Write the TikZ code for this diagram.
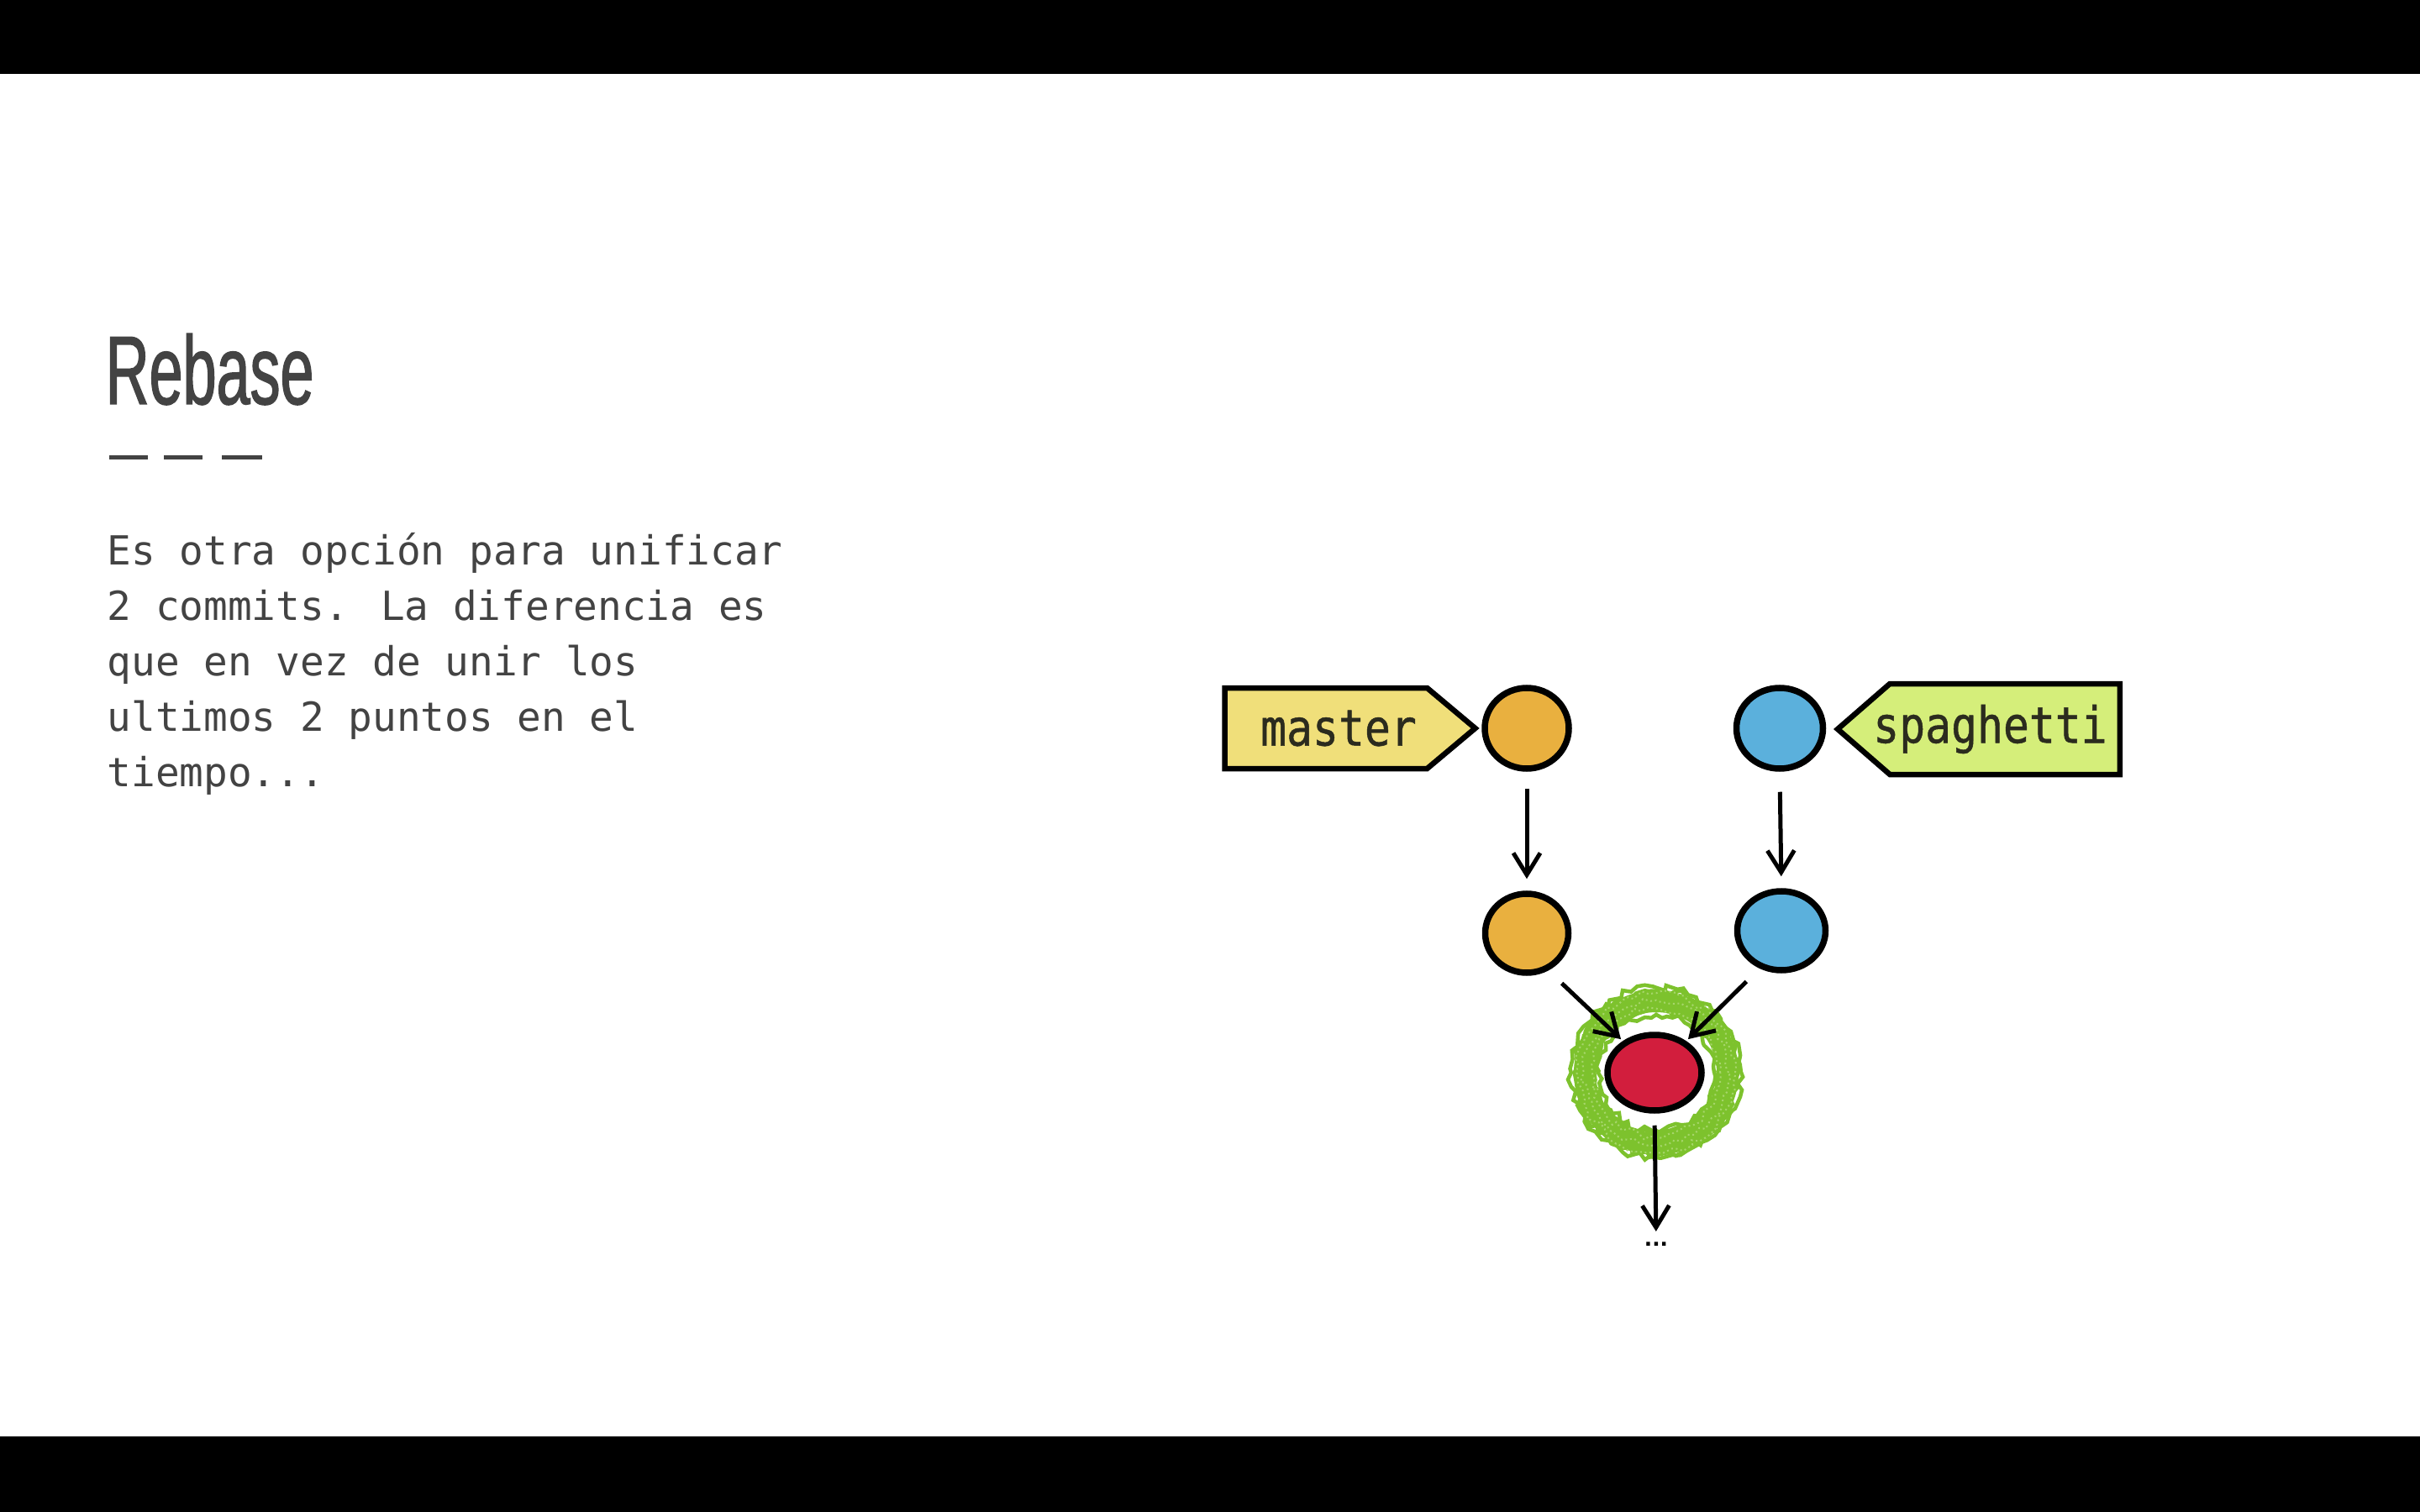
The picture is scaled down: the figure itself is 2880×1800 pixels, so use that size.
\documentclass[tikz,border=0pt]{standalone}
\usepackage{fontspec}
\usetikzlibrary{shapes.geometric,shapes.symbols,arrows.meta,decorations.pathmorphing}
\newfontfamily\titlefont[FakeStretch=0.62,FakeBold=1.2]{Liberation Sans}
\newfontfamily\bodyfont{DejaVu Sans Mono}
\newfontfamily\labelfont[FakeStretch=0.86,FakeBold=0.8]{DejaVu Sans Mono}
\newfontfamily\dotsfont{DejaVu Sans}
\definecolor{txtgray}{HTML}{434343}
\definecolor{mastercol}{HTML}{F0DF7A}
\definecolor{spagcol}{HTML}{D5EE7A}
\definecolor{orangecol}{HTML}{E9B03F}
\definecolor{bluecol}{HTML}{5BB0DC}
\definecolor{redcol}{HTML}{D21E3D}
\definecolor{ringcol}{HTML}{7DC22D}
\definecolor{ringlight}{HTML}{A6D66A}
\definecolor{labeltxt}{HTML}{2B2B1E}
\pgfmathsetseed{7}
\tikzset{
  bodyline/.style={anchor=base west, inner sep=0pt, text=txtgray, font=\bodyfont\fontsize{13.57pt}{18.8pt}\selectfont},
  commit/.style={ellipse, draw=black, line width=0.75mm, inner sep=0pt},
  branchlbl/.style={signal, draw=black, line width=0.65mm, inner sep=0pt, text=labeltxt, font=\labelfont\fontsize{17pt}{20pt}\selectfont},
  arr/.style={line width=0.5mm, -{Straight Barb[length=2.6mm, width=3.2mm, line width=0.5mm]}},
  bar/.style={fill=black, draw=none},
  dashbar/.style={line width=0.5mm, draw=txtgray},
  fuzz/.style={decorate, decoration={random steps, segment length=0.8mm, amplitude=0.45mm}}
}
\begin{document}
\begin{tikzpicture}[x=0.1mm, y=-0.1mm]
\useasboundingbox (0,0) rectangle (2880,1800);
\fill[white] (0,0) rectangle (2880,1800);
\fill[bar] (0,0) rectangle (2880,88);
\fill[bar] (0,1710) rectangle (2880,1800);

% title
\node[anchor=base west, inner sep=0pt, text=txtgray, font=\titlefont\fontsize{33pt}{36pt}\selectfont] (title) at (125,481) {Rebase};
\draw[dashbar] (130,545) -- (176,545);
\draw[dashbar] (195,545) -- (241,545);
\draw[dashbar] (264,545) -- (312,545);

% body text
\node[bodyline] (t1) at (127,672) {Es otra opción para unificar};
\node[bodyline] (t2) at (127,738) {2 commits. La diferencia es};
\node[bodyline] (t3) at (127,804) {que en vez de unir los};
\node[bodyline] (t4) at (127,870) {ultimos 2 puntos en el};
\node[bodyline] (t5) at (127,936) {tiempo...};

% green ring
\coordinate (ringc) at (1971,1277);
\draw[ringcol, line width=2.6mm] (ringc) circle[radius=8.5mm];
\foreach \rad in {6.9,7.3,7.8,8.3,8.8,9.3,9.7,10.1} {
  \draw[ringcol, line width=0.45mm, fuzz] (ringc) circle[radius=\rad mm];
}
\foreach \rad in {7.6,8.6,9.4} {
  \draw[ringlight, line width=0.2mm, fuzz, densely dotted] (ringc) circle[radius=\rad mm];
}

% commits
\node[commit, fill=orangecol, minimum width=10mm, minimum height=9.6mm] (m1) at (1817,867) {};
\node[commit, fill=bluecol, minimum width=10.3mm, minimum height=9.6mm] (b1) at (2118,867) {};
\node[commit, fill=orangecol, minimum width=9.9mm, minimum height=9.4mm] (m2) at (1817,1111) {};
\node[commit, fill=bluecol, minimum width=10.5mm, minimum height=9.4mm] (b2) at (2120,1108) {};

% labels
\node[branchlbl, fill=mastercol, signal to=east, signal pointer angle=80, minimum width=29.8mm, minimum height=9.6mm] (mlbl) at (1578,867) {\hspace*{3mm}master};
\node[branchlbl, fill=spagcol, signal to=west, signal pointer angle=82, minimum width=33.6mm, minimum height=10.8mm] (slbl) at (2386,868) {\hspace*{-3.5mm}spaghetti};

% red commit
\node[commit, fill=redcol, minimum width=11.2mm, minimum height=9mm] (r) at (1969,1277) {};

% dots
\node[inner sep=0pt, font=\dotsfont\bfseries\fontsize{7pt}{8pt}\selectfont] (dots) at (1971,1481) {...};

% connectors
\draw[arr, shorten <=2mm, shorten >=1.4mm] (m1.south) -- (m2.north);
\draw[arr, shorten <=2.4mm, shorten >=1.4mm] (b1.south) -- (b2.north);
\draw[arr, shorten <=2.2mm, shorten >=0.3mm] (m2.-60) -- (r.135);
\draw[arr, shorten <=2.2mm, shorten >=0.3mm] (b2.-120) -- (r.45);
\draw[arr, shorten <=1.4mm, shorten >=1.2mm] (r.south) -- (dots.north);
\end{tikzpicture}
\end{document}
